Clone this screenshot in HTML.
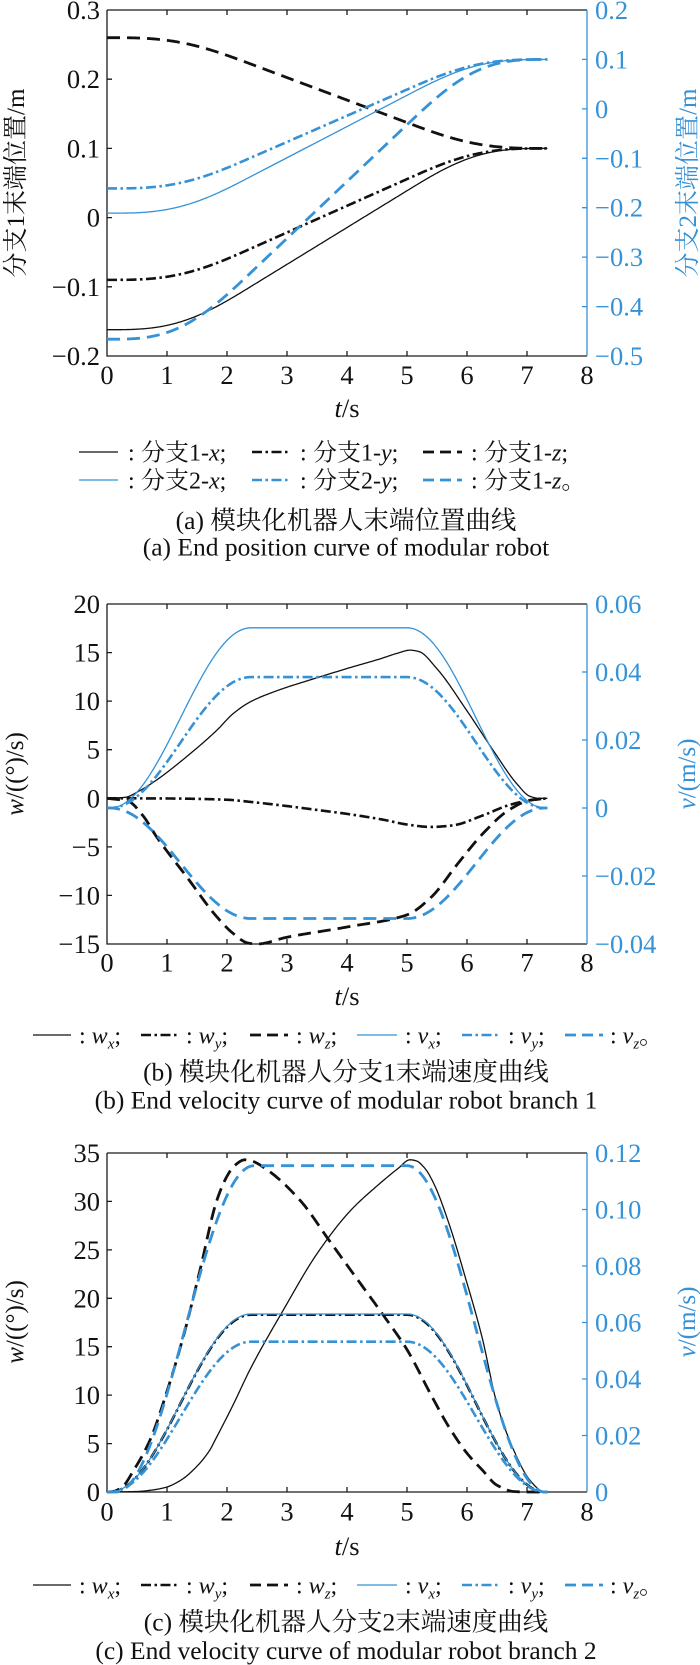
<!DOCTYPE html>
<html><head><meta charset="utf-8">
<style>
html,body{margin:0;padding:0;background:#fff;}
svg{display:block;}
text{font-family:"Liberation Serif","Noto Serif CJK SC",serif;}
</style></head><body>
<svg id="s" width="700" height="1665" viewBox="0 0 700 1665" xmlns="http://www.w3.org/2000/svg">
<rect width="700" height="1665" fill="#fff"/>

<!-- ================= CHART A ================= -->
<g stroke="#1a1a1a" stroke-width="1.3" fill="none">
<path d="M107,10V356H587M107,10H587"/>
<path d="M167,356v-5M227,356v-5M287,356v-5M347,356v-5M407,356v-5M467,356v-5M527,356v-5M167,10v5M227,10v5M287,10v5M347,10v5M407,10v5M467,10v5M527,10v5M107,79.2h5M107,148.4h5M107,217.6h5M107,286.8h5"/>
</g>
<path stroke="#3592d6" stroke-width="1.3" fill="none" d="M587,10V356M587,59.4h-5M587,108.9h-5M587,158.3h-5M587,207.7h-5M587,257.1h-5M587,306.6h-5"/>
<g font-size="26.5" fill="#111" text-anchor="end">
<text x="100" y="19">0.3</text><text x="100" y="88.2">0.2</text><text x="100" y="157.4">0.1</text>
<text x="100" y="226.6">0</text><text x="100" y="295.8">−0.1</text><text x="100" y="365">−0.2</text>
</g>
<g font-size="26.5" fill="#3592d6">
<text x="595" y="19">0.2</text><text x="595" y="68.4">0.1</text><text x="595" y="117.9">0</text>
<text x="595" y="167.3">−0.1</text><text x="595" y="216.7">−0.2</text><text x="595" y="266.1">−0.3</text>
<text x="595" y="315.6">−0.4</text><text x="595" y="365">−0.5</text>
</g>
<g font-size="26.5" fill="#111" text-anchor="middle">
<text x="107" y="384">0</text><text x="167" y="384">1</text><text x="227" y="384">2</text><text x="287" y="384">3</text><text x="347" y="384">4</text><text x="407" y="384">5</text><text x="467" y="384">6</text><text x="527" y="384">7</text><text x="587" y="384">8</text>
<text x="347" y="417"><tspan font-style="italic">t</tspan>/s</text>
</g>
<text font-size="25" fill="#111" text-anchor="middle" transform="translate(24,183) rotate(-90)">分支1末端位置/m</text>
<text font-size="25" fill="#3592d6" text-anchor="middle" transform="translate(696,183) rotate(-90)">分支2末端位置/m</text>

<!-- legend A -->
<g fill="none">
<path d="M79,452H118" stroke="#111" stroke-width="1.3"/>
<path d="M252,452H290" stroke="#111" stroke-width="2.6" stroke-dasharray="10 3.5 2.5 3.5"/>
<path d="M423,452H462" stroke="#111" stroke-width="2.8" stroke-dasharray="11 6"/>
<path d="M79,480H118" stroke="#3592d6" stroke-width="1.3"/>
<path d="M252,480H290" stroke="#3592d6" stroke-width="2.6" stroke-dasharray="10 3.5 2.5 3.5"/>
<path d="M423,480H462" stroke="#3592d6" stroke-width="2.8" stroke-dasharray="11 6"/>
</g>
<g font-size="24" fill="#111">
<text x="128" y="460.5">:</text><text x="141" y="460.5">分支1-<tspan font-style="italic">x</tspan>;</text>
<text x="300" y="460.5">:</text><text x="313" y="460.5">分支1-<tspan font-style="italic">y</tspan>;</text>
<text x="471" y="460.5">:</text><text x="484" y="460.5">分支1-<tspan font-style="italic">z</tspan>;</text>
<text x="128" y="488.5">:</text><text x="141" y="488.5">分支2-<tspan font-style="italic">x</tspan>;</text>
<text x="300" y="488.5">:</text><text x="313" y="488.5">分支2-<tspan font-style="italic">y</tspan>;</text>
<text x="471" y="488.5">:</text><text x="484" y="488.5">分支1-<tspan font-style="italic">z</tspan>。</text>
</g>
<g font-size="25.5" fill="#111" text-anchor="middle">
<text x="346" y="529">(a) 模块化机器人末端位置曲线</text>
<text x="346" y="555.5">(a) End position curve of modular robot</text>
</g>

<!-- ================= CHART B ================= -->
<g stroke="#1a1a1a" stroke-width="1.3" fill="none">
<path d="M107,604V944H587M107,604H587"/>
<path d="M167,944v-5M227,944v-5M287,944v-5M347,944v-5M407,944v-5M467,944v-5M527,944v-5M167,604v5M227,604v5M287,604v5M347,604v5M407,604v5M467,604v5M527,604v5M107,652.6h5M107,701.1h5M107,749.7h5M107,798.3h5M107,846.9h5M107,895.4h5"/>
</g>
<path stroke="#3592d6" stroke-width="1.3" fill="none" d="M587,604V944M587,672h-5M587,740h-5M587,808h-5M587,876h-5"/>
<g font-size="26.5" fill="#111" text-anchor="end">
<text x="100" y="613">20</text><text x="100" y="661.6">15</text><text x="100" y="710.1">10</text><text x="100" y="758.7">5</text>
<text x="100" y="807.3">0</text><text x="100" y="855.9">−5</text><text x="100" y="904.4">−10</text><text x="100" y="953">−15</text>
</g>
<g font-size="26.5" fill="#3592d6">
<text x="595" y="613">0.06</text><text x="595" y="681">0.04</text><text x="595" y="749">0.02</text>
<text x="595" y="817">0</text><text x="595" y="885">−0.02</text><text x="595" y="953">−0.04</text>
</g>
<g font-size="26.5" fill="#111" text-anchor="middle">
<text x="107" y="971.5">0</text><text x="167" y="971.5">1</text><text x="227" y="971.5">2</text><text x="287" y="971.5">3</text><text x="347" y="971.5">4</text><text x="407" y="971.5">5</text><text x="467" y="971.5">6</text><text x="527" y="971.5">7</text><text x="587" y="971.5">8</text>
<text x="347" y="1005"><tspan font-style="italic">t</tspan>/s</text>
</g>
<text font-size="25" fill="#111" text-anchor="middle" transform="translate(23,774) rotate(-90)"><tspan font-style="italic">w</tspan>/((°)/s)</text>
<text font-size="25" fill="#3592d6" text-anchor="middle" transform="translate(695,774) rotate(-90)"><tspan font-style="italic">v</tspan>/(m/s)</text>

<!-- legend B -->
<g fill="none">
<path d="M33,1035H71" stroke="#111" stroke-width="1.3"/>
<path d="M141,1035H179" stroke="#111" stroke-width="2.6" stroke-dasharray="10 3.5 2.5 3.5"/>
<path d="M250,1035H288" stroke="#111" stroke-width="2.8" stroke-dasharray="11 6"/>
<path d="M357,1035H397" stroke="#3592d6" stroke-width="1.3"/>
<path d="M462,1035H500" stroke="#3592d6" stroke-width="2.6" stroke-dasharray="10 3.5 2.5 3.5"/>
<path d="M565,1035H603" stroke="#3592d6" stroke-width="2.8" stroke-dasharray="11 6"/>
</g>
<g font-size="24" fill="#111">
<text x="79" y="1043.5">: <tspan font-style="italic">w</tspan><tspan font-size="15" dy="5" font-style="italic">x</tspan><tspan dy="-5">;</tspan></text>
<text x="186" y="1043.5">: <tspan font-style="italic">w</tspan><tspan font-size="15" dy="5" font-style="italic">y</tspan><tspan dy="-5">;</tspan></text>
<text x="296" y="1043.5">: <tspan font-style="italic">w</tspan><tspan font-size="15" dy="5" font-style="italic">z</tspan><tspan dy="-5">;</tspan></text>
<text x="405" y="1043.5">: <tspan font-style="italic">v</tspan><tspan font-size="15" dy="5" font-style="italic">x</tspan><tspan dy="-5">;</tspan></text>
<text x="508" y="1043.5">: <tspan font-style="italic">v</tspan><tspan font-size="15" dy="5" font-style="italic">y</tspan><tspan dy="-5">;</tspan></text>
<text x="610" y="1043.5">: <tspan font-style="italic">v</tspan><tspan font-size="15" dy="5" font-style="italic">z</tspan><tspan dy="-5">。</tspan></text>
</g>
<g font-size="25.5" fill="#111" text-anchor="middle">
<text x="346" y="1080.5">(b) 模块化机器人分支1末端速度曲线</text>
<text x="346" y="1108.5">(b) End velocity curve of modular robot branch 1</text>
</g>

<!-- ================= CHART C ================= -->
<g stroke="#1a1a1a" stroke-width="1.3" fill="none">
<path d="M107,1153V1492H587M107,1153H587"/>
<path d="M167,1492v-5M227,1492v-5M287,1492v-5M347,1492v-5M407,1492v-5M467,1492v-5M527,1492v-5M167,1153v5M227,1153v5M287,1153v5M347,1153v5M407,1153v5M467,1153v5M527,1153v5M107,1201.4h5M107,1249.9h5M107,1298.3h5M107,1346.7h5M107,1395.1h5M107,1443.6h5"/>
</g>
<path stroke="#3592d6" stroke-width="1.3" fill="none" d="M587,1153V1492M587,1209.5h-5M587,1266h-5M587,1322.5h-5M587,1379h-5M587,1435.5h-5"/>
<g font-size="26.5" fill="#111" text-anchor="end">
<text x="100" y="1162">35</text><text x="100" y="1210.4">30</text><text x="100" y="1258.9">25</text><text x="100" y="1307.3">20</text>
<text x="100" y="1355.7">15</text><text x="100" y="1404.1">10</text><text x="100" y="1452.6">5</text><text x="100" y="1501">0</text>
</g>
<g font-size="26.5" fill="#3592d6">
<text x="595" y="1162">0.12</text><text x="595" y="1218.5">0.10</text><text x="595" y="1275">0.08</text><text x="595" y="1331.5">0.06</text>
<text x="595" y="1388">0.04</text><text x="595" y="1444.5">0.02</text><text x="595" y="1501">0</text>
</g>
<g font-size="26.5" fill="#111" text-anchor="middle">
<text x="107" y="1520.5">0</text><text x="167" y="1520.5">1</text><text x="227" y="1520.5">2</text><text x="287" y="1520.5">3</text><text x="347" y="1520.5">4</text><text x="407" y="1520.5">5</text><text x="467" y="1520.5">6</text><text x="527" y="1520.5">7</text><text x="587" y="1520.5">8</text>
<text x="347" y="1555"><tspan font-style="italic">t</tspan>/s</text>
</g>
<text font-size="25" fill="#111" text-anchor="middle" transform="translate(23,1322) rotate(-90)"><tspan font-style="italic">w</tspan>/((°)/s)</text>
<text font-size="25" fill="#3592d6" text-anchor="middle" transform="translate(695,1322) rotate(-90)"><tspan font-style="italic">v</tspan>/(m/s)</text>

<!-- legend C -->
<g fill="none">
<path d="M33,1585H71" stroke="#111" stroke-width="1.3"/>
<path d="M141,1585H179" stroke="#111" stroke-width="2.6" stroke-dasharray="10 3.5 2.5 3.5"/>
<path d="M250,1585H288" stroke="#111" stroke-width="2.8" stroke-dasharray="11 6"/>
<path d="M357,1585H397" stroke="#3592d6" stroke-width="1.3"/>
<path d="M462,1585H500" stroke="#3592d6" stroke-width="2.6" stroke-dasharray="10 3.5 2.5 3.5"/>
<path d="M565,1585H603" stroke="#3592d6" stroke-width="2.8" stroke-dasharray="11 6"/>
</g>
<g font-size="24" fill="#111">
<text x="79" y="1593.5">: <tspan font-style="italic">w</tspan><tspan font-size="15" dy="5" font-style="italic">x</tspan><tspan dy="-5">;</tspan></text>
<text x="186" y="1593.5">: <tspan font-style="italic">w</tspan><tspan font-size="15" dy="5" font-style="italic">y</tspan><tspan dy="-5">;</tspan></text>
<text x="296" y="1593.5">: <tspan font-style="italic">w</tspan><tspan font-size="15" dy="5" font-style="italic">z</tspan><tspan dy="-5">;</tspan></text>
<text x="405" y="1593.5">: <tspan font-style="italic">v</tspan><tspan font-size="15" dy="5" font-style="italic">x</tspan><tspan dy="-5">;</tspan></text>
<text x="508" y="1593.5">: <tspan font-style="italic">v</tspan><tspan font-size="15" dy="5" font-style="italic">y</tspan><tspan dy="-5">;</tspan></text>
<text x="610" y="1593.5">: <tspan font-style="italic">v</tspan><tspan font-size="15" dy="5" font-style="italic">z</tspan><tspan dy="-5">。</tspan></text>
</g>
<g font-size="25.5" fill="#111" text-anchor="middle">
<text x="346" y="1630.5">(c) 模块化机器人分支2末端速度曲线</text>
<text x="346" y="1659">(c) End velocity curve of modular robot branch 2</text>
</g>

<g id="curves" fill="none" stroke-linejoin="round"></g>
</svg>
<script>
(function(){
var NS='http://www.w3.org/2000/svg';
var B='#3592d6',K='#111';
var SOLID={w:1.3,da:null},DASH={w:2.8,da:'13 7'},DD={w:2.6,da:'10 3.5 2.5 3.5'};
function prof(a,b,c,d){return function(t){return t<a?0:t<b?(1-Math.cos(Math.PI*(t-a)/(b-a)))/2:t<c?1:t<d?(1+Math.cos(Math.PI*(t-c)/(d-c)))/2:0;};}
function integ(f,T){var dt=0.005,arr=[0],acc=0;for(var t=0;t<T;t+=dt){acc+=f(t+dt/2)*dt;arr.push(acc);}var tot=acc;return function(t){var i=Math.min(arr.length-1,Math.max(0,Math.round(t/dt)));return arr[i]/tot;};}
function mono(p){var n=p.length,x=p.map(function(q){return q[0];}),y=p.map(function(q){return q[1];}),d=[],m=new Array(n),i;
for(i=0;i<n-1;i++)d[i]=(y[i+1]-y[i])/(x[i+1]-x[i]);
m[0]=d[0];m[n-1]=d[n-2];
for(i=1;i<n-1;i++){if(d[i-1]*d[i]<=0)m[i]=0;else{var h0=x[i]-x[i-1],h1=x[i+1]-x[i],w1=2*h1+h0,w2=h1+2*h0;m[i]=(w1+w2)/(w1/d[i-1]+w2/d[i]);}}
return function(t){if(t<=x[0])return y[0];if(t>=x[n-1])return y[n-1];var j=0;while(t>x[j+1])j++;var h=x[j+1]-x[j],s=(t-x[j])/h,s2=s*s,s3=s2*s;return (2*s3-3*s2+1)*y[j]+(s3-2*s2+s)*h*m[j]+(-2*s3+3*s2)*y[j+1]+(s3-s2)*h*m[j+1];};}
function X(t){return 107+60*t;}
function Y(ch,v,right){var r=right?ch.r:ch.l;return ch.bot-(v-r[0])/(r[1]-r[0])*(ch.bot-ch.top);}
var g=document.getElementById('curves');
function draw(ch,fn,right,color,st){var d='';for(var k=0;k<=367;k++){var t=k*0.02;if(t>7.35)t=7.35;d+=(d?'L':'M')+X(t).toFixed(2)+','+Y(ch,fn(t),right).toFixed(2);}
var p=document.createElementNS(NS,'path');p.setAttribute('d',d);p.setAttribute('stroke',color);p.setAttribute('stroke-width',st.w);if(st.da)p.setAttribute('stroke-dasharray',st.da);g.appendChild(p);}

var f=prof(0.05,2.4,5.0,7.3);
var s=integ(f,7.4);
var A={top:10,bot:356,l:[-0.2,0.3],r:[-0.5,0.2]};
var Bc={top:604,bot:944,l:[-15,20],r:[-0.04,0.06]};
var C={top:1153,bot:1492,l:[0,35],r:[0,0.12]};

/* chart A */
draw(A,function(t){return -0.162+0.262*s(t);},false,K,SOLID);
draw(A,function(t){return -0.09+0.19*s(t);},false,K,DD);
draw(A,function(t){return 0.26-0.16*s(t);},false,K,DASH);
draw(A,function(t){return -0.211+0.311*s(t);},true,B,SOLID);
draw(A,function(t){return -0.161+0.261*s(t);},true,B,DD);
draw(A,function(t){return -0.466+0.566*s(t);},true,B,DASH);

/* chart B */
var bwx=mono([[0,0],[0.3,0.1],[0.55,0.8],[0.83,1.9],[1.33,4.3],[1.83,7.0],[2.1,8.7],[2.38,9.9],[2.8,11.0],[3.55,12.5],[4.05,13.45],[4.55,14.35],[4.85,14.95],[5.05,15.25],[5.2,15.1],[5.49,13.4],[6.0,9.0],[6.44,4.9],[6.83,1.5],[7.05,0.2],[7.2,0],[7.35,0]]);
var bwy=mono([[0,0],[1,-0.02],[2,-0.15],[2.4,-0.38],[3,-0.8],[3.5,-1.2],[4.05,-1.65],[4.6,-2.2],[5.0,-2.7],[5.4,-2.95],[5.75,-2.8],[6.27,-1.75],[6.7,-0.7],[7.05,-0.2],[7.35,0]]);
var bwz=mono([[0,0],[0.35,-0.3],[0.6,-1.8],[0.83,-4],[1.33,-8.1],[1.83,-12.2],[2.1,-13.9],[2.35,-14.9],[2.5,-15.0],[3.0,-14.3],[4.0,-13.25],[5.0,-12.0],[5.4,-10.2],[5.85,-6.7],[6.27,-3.6],[6.7,-1.2],[7.05,-0.2],[7.35,0]]);
draw(Bc,bwx,false,K,SOLID);
draw(Bc,bwy,false,K,DD);
draw(Bc,bwz,false,K,DASH);
draw(Bc,function(t){return 0.053*f(t);},true,B,SOLID);
draw(Bc,function(t){return 0.0385*f(t);},true,B,DD);
draw(Bc,function(t){return -0.0325*f(t);},true,B,DASH);

/* chart C */
var f2=prof(0.15,2.45,5.0,7.3);
var cwx=mono([[0,0],[0.5,0.05],[0.75,0.2],[0.99,0.5],[1.25,1.3],[1.49,2.6],[1.7,4.2],[1.83,5.7],[2.11,9.1],[2.38,12.6],[2.94,18.8],[3.5,24.6],[4.05,29.0],[4.5,31.6],[4.85,33.4],[5.05,34.3],[5.15,34.2],[5.3,33.4],[5.45,31.8],[5.7,27.7],[5.97,22.2],[6.25,16],[6.5,9.1],[6.78,4.3],[7.05,1.2],[7.27,0.05],[7.35,0]]);
var cwz=mono([[0,0],[0.1,0.05],[0.25,0.5],[0.45,2.3],[0.72,5.4],[0.99,10.2],[1.27,16],[1.55,22.9],[1.83,30.1],[2.0,32.6],[2.11,33.6],[2.3,34.3],[2.4,34.2],[2.66,33.3],[3.22,30.1],[3.7,26],[4.05,23.0],[4.6,18.3],[5.0,14.7],[5.42,9.8],[5.7,6.7],[6.0,4.0],[6.25,2.3],[6.5,0.7],[6.78,0.05],[7.0,0],[7.35,0]]);
draw(C,cwx,false,K,SOLID);
draw(C,function(t){return 18.3*f(t);},false,K,DD);
draw(C,cwz,false,K,DASH);
draw(C,function(t){return 0.063*f(t);},true,B,SOLID);
draw(C,function(t){return 0.0532*f(t);},true,B,DD);
draw(C,function(t){return 0.1155*f2(t);},true,B,DASH);
})();
</script>
</body></html>
